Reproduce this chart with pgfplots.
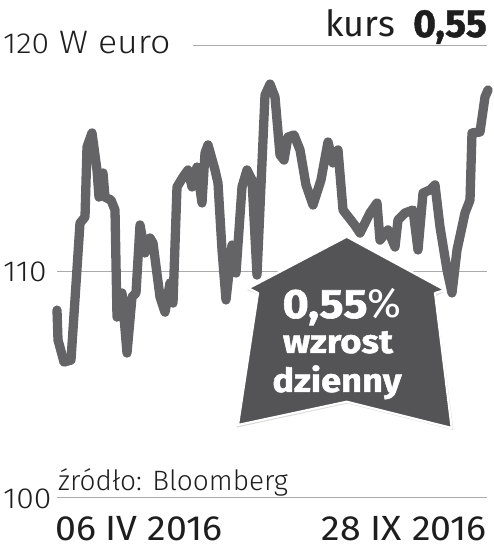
\documentclass[border=0pt]{standalone}
\usepackage{pgfplots}
\pgfplotsset{compat=1.18}
\usepackage{fontspec}
\setmainfont{Fira Sans}
\newfontfamily\lightfont{Fira Sans Light}
\newfontfamily\lightwide[FakeStretch=1.1]{Fira Sans Light}
\newfontfamily\datefont[FakeStretch=1.07]{Fira Sans}
\newfontfamily\boldfont[FakeBold=1.2]{Fira Sans Bold}
\newfontfamily\housefont[FakeStretch=1.1, FakeBold=1.4]{Fira Sans Bold}
\newfontfamily\pctfont[FakeStretch=1.0]{Fira Sans}
\definecolor{linegray}{RGB}{100,100,102}
\definecolor{gridgray}{RGB}{170,170,170}
\definecolor{housegray}{RGB}{84,84,86}
\definecolor{txt}{RGB}{30,30,30}
\newcommand{\pp}[2]{(#1pt,549pt-#2pt)}
\begin{document}
\begin{tikzpicture}
\begin{axis}[at={(0,0)}, anchor=south west, scale only axis,
  width=493pt, height=549pt, xmin=0, xmax=493, ymin=97.730, ymax=122.022,
  hide axis, clip=false]
\path (rel axis cs:0,0) rectangle (rel axis cs:1,1);
% gridlines
\draw[gridgray, line width=1.4pt] (axis cs:193,120) -- (axis cs:487,120);
\draw[gridgray, line width=1.4pt] (axis cs:57,110) -- (axis cs:487,110);
\draw[gridgray, line width=1.4pt] (axis cs:57,100) -- (axis cs:487,100);
\addplot[linegray, line width=9.3pt, line join=round, line cap=round, mark=none] table {
x y
57 108.30
58 106.98
64 106.00
71 106.09
80 112.15
85 112.42
87 115.52
92 116.14
97 114.50
99 113.30
103 114.37
105 113.30
111 113.17
115 112.73
117 107.99
122 109.06
127 106.40
132 108.88
136 109.06
140 112.07
145 110.83
150 111.49
153 111.27
160 108.88
165 108.21
170 109.50
173 108.61
177 113.75
183 114.19
188 114.50
192 113.75
197 114.63
202 113.04
205 115.25
208 115.61
215 114.50
218 113.92
222 110.96
226 108.75
232 111.18
236 109.94
242 113.75
247 114.50
252 114.06
257 109.85
265 117.81
270 118.30
275 117.73
280 115.17
284 114.94
288 115.96
294 116.05
300 115.39
306 113.84
313 112.95
321 114.06
328 115.74
333 114.81
338 115.39
343 112.73
355 112.05
360 111.71
370 112.60
377 113.04
380 111.40
388 111.85
395 111.09
398 112.29
405 112.60
413 112.73
418 110.96
423 113.48
430 113.62
435 113.84
440 111.98
447 110.08
452 109.06
457 110.96
465 112.60
470 113.17
472 116.14
480 116.18
485 117.73
488 118.04
};
\end{axis}
% house arrow
\fill[black!15] \pp{347.5}{236} -- \pp{444}{292} -- \pp{436}{296} -- \pp{453.5}{430} -- \pp{347.5}{403.5} -- \pp{237}{427.5} -- \pp{259}{295} -- \pp{247}{290} -- cycle;
\filldraw[housegray, draw=white, line width=2.2pt, line join=round] \pp{346.7}{236.7} -- \pp{445}{290} -- \pp{435}{293} -- \pp{451.7}{428} -- \pp{346.7}{401.7} -- \pp{238}{425} -- \pp{258}{293} -- \pp{248.3}{288.3} -- cycle;
\node[anchor=base, white, inner sep=0pt] at \pp{342}{318} {\housefont\fontsize{41}{41}\selectfont 0,55\pctfont\%};
\node[anchor=base, white, inner sep=0pt] at \pp{338}{353} {\housefont\fontsize{33}{33}\selectfont wzrost};
\node[anchor=base, white, inner sep=0pt] at \pp{337}{392} {\housefont\fontsize{33}{33}\selectfont dzienny};
% labels
\node[anchor=base west, txt, inner sep=0pt] at \pp{3}{54} {\lightwide\fontsize{29}{29}\selectfont 120\fontsize{32.5}{32.5}\selectfont{} W euro};
\node[anchor=base west, txt, inner sep=0pt] at \pp{3}{282} {\lightwide\fontsize{29}{29}\selectfont 110};
\node[anchor=base west, txt, inner sep=0pt] at \pp{3}{509} {\lightwide\fontsize{29}{29}\selectfont 100};
\node[anchor=base east, txt, inner sep=0pt] at \pp{395}{37} {\fontsize{36}{36}\selectfont kurs};
\node[anchor=base east, txt, inner sep=0pt] at \pp{487}{37} {\boldfont\fontsize{39}{39}\selectfont 0,55};
\node[anchor=base west, txt, inner sep=0pt] at \pp{58}{491} {\lightfont\fontsize{28}{28}\selectfont źródło: Bloomberg};
\node[anchor=base west, txt, inner sep=0pt] at \pp{55}{540} {\datefont\fontsize{35}{35}\selectfont 06 IV 2016};
\node[anchor=base east, txt, inner sep=0pt] at \pp{487}{540} {\datefont\fontsize{35}{35}\selectfont 28 IX 2016};
\end{tikzpicture}
\end{document}
